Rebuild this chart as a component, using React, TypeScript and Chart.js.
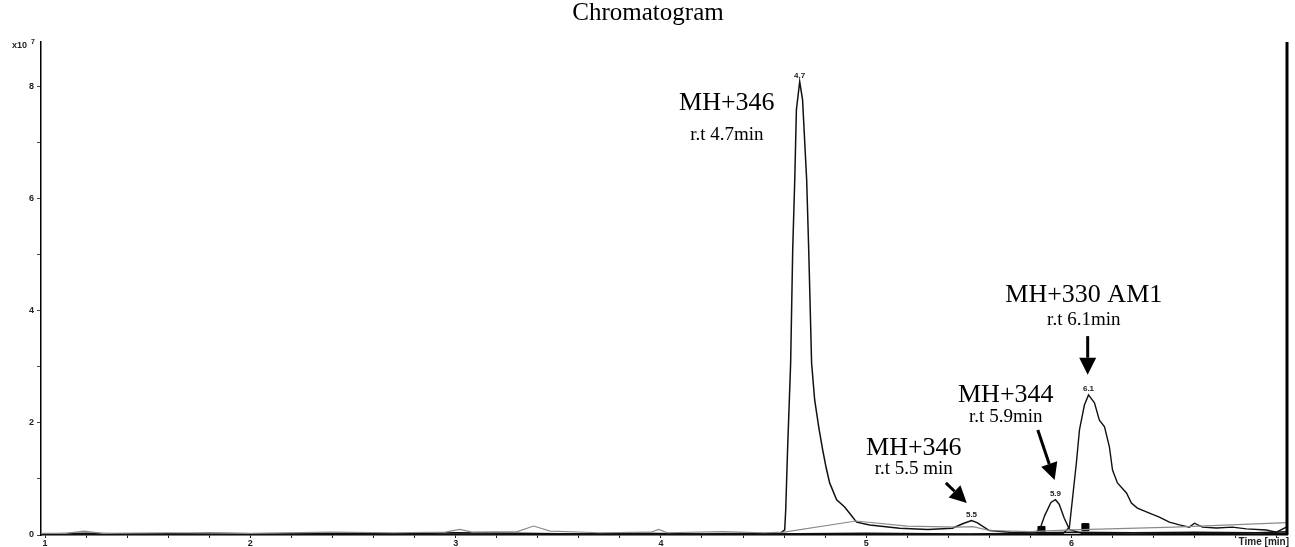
import React, { useEffect, useRef } from "react";
import { Chart, registerables } from "chart.js";

Chart.register(...registerables);

// Axis ranges (minutes, x10^7 counts)
const X_MIN = 0.98;
const X_MAX = 7.05;
const Y_MIN = 0;
const Y_MAX = 8.8;
const X_MAJOR_LABELS = [1, 2, 3, 4, 5, 6];
const Y_MAJOR_LABELS = [0, 2, 4, 6, 8];

// Trace MH+346 (peaks at 4.7 and 5.5)
const A_TIME = [0.98, 1.2, 1.5, 1.8, 2.1, 2.4, 2.7, 3.0, 3.3, 3.6, 3.9, 4.2, 4.45, 4.578, 4.603, 4.608, 4.617, 4.632, 4.642, 4.652, 4.66, 4.676, 4.69, 4.71, 4.72, 4.734, 4.749, 4.77, 4.788, 4.805, 4.822, 4.856, 4.895, 4.925, 4.953, 5.017, 5.163, 5.3, 5.42, 5.47, 5.513, 5.54, 5.6, 5.7, 5.85, 6.0, 6.3, 6.6, 6.9, 7.05];
const A_VALUE = [0.02, 0.03, 0.01, 0.03, 0.02, 0.03, 0.02, 0.04, 0.03, 0.02, 0.03, 0.02, 0.03, 0.02, 0.09, 0.45, 1.52, 3.07, 5.09, 6.34, 7.59, 8.09, 7.77, 6.34, 5.09, 3.07, 2.41, 1.9, 1.52, 1.2, 0.93, 0.63, 0.5, 0.36, 0.23, 0.18, 0.12, 0.1, 0.12, 0.2, 0.26, 0.22, 0.08, 0.05, 0.04, 0.05, 0.04, 0.05, 0.04, 0.06];

// Trace MH+344 (peak at 5.9)
const B_TIME = [0.98, 1.5, 2.0, 2.5, 3.0, 3.5, 4.0, 4.5, 5.0, 5.5, 5.8, 5.844, 5.87, 5.9, 5.922, 5.94, 5.965, 5.99, 6.05, 6.3, 6.6, 6.9, 7.05];
const B_VALUE = [0.01, 0.02, 0.01, 0.02, 0.01, 0.02, 0.01, 0.02, 0.03, 0.02, 0.03, 0.08, 0.35, 0.58, 0.63, 0.55, 0.3, 0.1, 0.03, 0.02, 0.03, 0.02, 0.03];

// Trace MH+330 AM1 (peak at 6.1)
const C_TIME = [0.98, 1.4, 1.9, 2.4, 2.9, 3.4, 3.9, 4.4, 4.9, 5.4, 5.8, 5.96, 5.99, 6.024, 6.039, 6.063, 6.083, 6.112, 6.136, 6.161, 6.185, 6.2, 6.224, 6.268, 6.292, 6.321, 6.38, 6.428, 6.477, 6.526, 6.574, 6.599, 6.638, 6.706, 6.784, 6.852, 6.949, 6.998, 7.047];
const C_VALUE = [0.01, 0.02, 0.01, 0.02, 0.01, 0.02, 0.01, 0.02, 0.02, 0.01, 0.02, 0.03, 0.14, 1.29, 1.875, 2.32, 2.5, 2.36, 2.05, 1.93, 1.57, 1.16, 0.93, 0.75, 0.57, 0.48, 0.39, 0.32, 0.23, 0.18, 0.14, 0.21, 0.14, 0.125, 0.14, 0.11, 0.09, 0.05, 0.14];

// Grey background trace
const D_TIME = [0.98, 1.1, 1.19, 1.28, 1.6, 2.0, 2.4, 2.7, 2.95, 3.02, 3.08, 3.3, 3.38, 3.46, 3.7, 3.95, 3.99, 4.03, 4.3, 4.5, 4.6, 4.95, 5.2, 5.45, 5.52, 5.6, 5.8, 6.0, 6.5, 7.05];
const D_VALUE = [0.03, 0.03, 0.07, 0.03, 0.04, 0.03, 0.05, 0.04, 0.05, 0.1, 0.05, 0.06, 0.16, 0.07, 0.04, 0.05, 0.1, 0.04, 0.06, 0.04, 0.05, 0.25, 0.16, 0.14, 0.15, 0.08, 0.06, 0.09, 0.14, 0.22];

// Integration markers
const MARK_TIME = [5.854, 6.068];
const MARK_VALUE = [0.09, 0.14];

// Peak apex labels
const PEAK_LABELS = ["4.7", "5.5", "5.9", "6.1"];
const PEAK_TIME = [4.676, 5.513, 5.922, 6.083];
const PEAK_VALUE = [8.09, 0.26, 0.63, 2.5];

// Annotation texts (anchored in data units)
const ANN_TITLES = ["MH+346", "MH+346", "MH+344", "MH+330 AM1"];
const ANN_SUBS = ["r.t 4.7min", "r.t 5.5 min", "r.t 5.9min", "r.t 6.1min"];
const ANN_TIME = [4.321, 5.232, 5.68, 6.06];
const ANN_TITLE_VALUE = [7.59, 1.43, 2.375, 4.16];
const ANN_SUB_VALUE = [7.05, 1.09, 2.02, 3.75];

// Arrows (from -> to, data units)
const ARROW_FROM_T = [5.388, 5.836, 6.079];
const ARROW_FROM_V = [0.93, 1.875, 3.55];
const ARROW_TO_T = [5.49, 5.918, 6.079];
const ARROW_TO_V = [0.57, 0.98, 2.86];

const zip = (t: number[], v: number[]) => t.map((x, i) => ({ x, y: v[i] }));

const SERIF = "'Liberation Serif', 'Times New Roman', serif";
const SANS = "'Liberation Sans', Arial, sans-serif";

const overlayPlugin = {
  id: "overlay",
  afterDatasetsDraw(chart: any) {
    const ctx = chart.ctx as CanvasRenderingContext2D;
    const xs = chart.scales.x;
    const ys = chart.scales.y;
    const area = chart.chartArea;
    ctx.save();

    // peak apex labels
    ctx.fillStyle = "#222";
    ctx.font = `bold 8px ${SANS}`;
    ctx.textAlign = "center";
    ctx.textBaseline = "bottom";
    PEAK_LABELS.forEach((lab, i) => {
      ctx.fillText(lab, xs.getPixelForValue(PEAK_TIME[i]), ys.getPixelForValue(PEAK_VALUE[i]) - 2);
    });

    // annotation texts
    ctx.fillStyle = "#000";
    ctx.textBaseline = "alphabetic";
    ANN_TITLES.forEach((t, i) => {
      const px = xs.getPixelForValue(ANN_TIME[i]);
      ctx.font = `26px ${SERIF}`;
      ctx.fillText(t, px, ys.getPixelForValue(ANN_TITLE_VALUE[i]));
      ctx.font = `19px ${SERIF}`;
      ctx.fillText(ANN_SUBS[i], px, ys.getPixelForValue(ANN_SUB_VALUE[i]));
    });

    // arrows
    ARROW_FROM_T.forEach((ft, i) => {
      const x1 = xs.getPixelForValue(ft);
      const y1 = ys.getPixelForValue(ARROW_FROM_V[i]);
      const x2 = xs.getPixelForValue(ARROW_TO_T[i]);
      const y2 = ys.getPixelForValue(ARROW_TO_V[i]);
      const ang = Math.atan2(y2 - y1, x2 - x1);
      const head = 17;
      const half = 8.5;
      const bx = x2 - head * Math.cos(ang);
      const by = y2 - head * Math.sin(ang);
      ctx.strokeStyle = "#000";
      ctx.lineWidth = 3;
      ctx.beginPath();
      ctx.moveTo(x1, y1);
      ctx.lineTo(bx, by);
      ctx.stroke();
      ctx.beginPath();
      ctx.moveTo(x2, y2);
      ctx.lineTo(bx + half * Math.sin(ang), by - half * Math.cos(ang));
      ctx.lineTo(bx - half * Math.sin(ang), by + half * Math.cos(ang));
      ctx.closePath();
      ctx.fill();
    });

    // right frame line
    ctx.strokeStyle = "#000";
    ctx.lineWidth = 3;
    ctx.beginPath();
    ctx.moveTo(area.right, area.top);
    ctx.lineTo(area.right, area.bottom);
    ctx.stroke();

    // title
    ctx.font = `25px ${SERIF}`;
    ctx.textAlign = "center";
    ctx.textBaseline = "middle";
    ctx.fillText("Chromatogram", 648, 13);

    // exponent label
    ctx.fillStyle = "#222";
    ctx.font = `bold 9px ${SANS}`;
    ctx.textAlign = "left";
    ctx.textBaseline = "alphabetic";
    ctx.fillText("x10", 12, 48);
    ctx.font = `bold 7px ${SANS}`;
    ctx.fillText("7", 31, 44);

    // x axis title
    ctx.font = `bold 10px ${SANS}`;
    ctx.textAlign = "right";
    ctx.textBaseline = "top";
    ctx.fillText("Time [min]", area.right + 2, area.bottom + 2);
    ctx.restore();
  },
};

export default function App() {
  const ref = useRef<HTMLCanvasElement | null>(null);

  useEffect(() => {
    if (!ref.current) return;
    const line = (t: number[], v: number[], color: string, w: number) => ({
      type: "line" as const,
      data: zip(t, v),
      borderColor: color,
      borderWidth: w,
      pointRadius: 0,
      tension: 0,
      fill: false,
    });
    const chart = new Chart(ref.current, {
      type: "line",
      data: {
        datasets: [
          line(D_TIME, D_VALUE, "#8a8a8a", 1.2),
          line(B_TIME, B_VALUE, "#111", 1.4),
          line(C_TIME, C_VALUE, "#111", 1.4),
          line(A_TIME, A_VALUE, "#111", 1.5),
          {
            type: "scatter" as const,
            data: zip(MARK_TIME, MARK_VALUE),
            pointStyle: "rect",
            pointRadius: 5,
            backgroundColor: "#000",
            borderColor: "#000",
            showLine: false,
          } as any,
        ],
      },
      options: {
        animation: false,
        responsive: true,
        maintainAspectRatio: false,
        devicePixelRatio: 1,
        layout: { padding: { top: 42, right: 8, left: 0, bottom: 0 } },
        plugins: { legend: { display: false }, tooltip: { enabled: false }, title: { display: false } },
        scales: {
          x: {
            type: "linear",
            min: X_MIN,
            max: X_MAX,
            afterBuildTicks: (scale: any) => {
              const ticks = [];
              for (let i = 0; i <= 30; i++) ticks.push({ value: Math.round((1 + i * 0.2) * 10) / 10 });
              scale.ticks = ticks;
            },
            afterFit: (scale: any) => {
              scale.height = 12;
            },
            ticks: {
              autoSkip: false,
              maxRotation: 0,
              padding: 0,
              color: "#222",
              font: { family: SANS, size: 9, weight: "bold" },
              callback: (v: any) => (X_MAJOR_LABELS.includes(Number(v)) ? String(v) : ""),
            },
            grid: { drawOnChartArea: false, drawTicks: true, tickLength: 3, tickColor: "#222" },
            border: { display: true, color: "#000", width: 1.5 },
          },
          y: {
            type: "linear",
            min: Y_MIN,
            max: Y_MAX,
            afterBuildTicks: (scale: any) => {
              const ticks = [];
              for (let i = 0; i <= 8; i++) ticks.push({ value: i });
              scale.ticks = ticks;
            },
            afterFit: (scale: any) => {
              scale.width = 41;
            },
            ticks: {
              autoSkip: false,
              padding: 3,
              color: "#222",
              font: { family: SANS, size: 9, weight: "bold" },
              callback: (v: any) => (Y_MAJOR_LABELS.includes(Number(v)) ? String(v) : ""),
            },
            grid: { drawOnChartArea: false, drawTicks: true, tickLength: 4, tickColor: "#444" },
            border: { display: true, color: "#000", width: 1.5 },
          },
        },
      },
      plugins: [overlayPlugin],
    } as any);
    return () => chart.destroy();
  }, []);

  return (
    <div style={{ position: "absolute", left: 0, top: 0, width: 1295, height: 547, background: "#fff" }}>
      <canvas ref={ref} />
    </div>
  );
}
